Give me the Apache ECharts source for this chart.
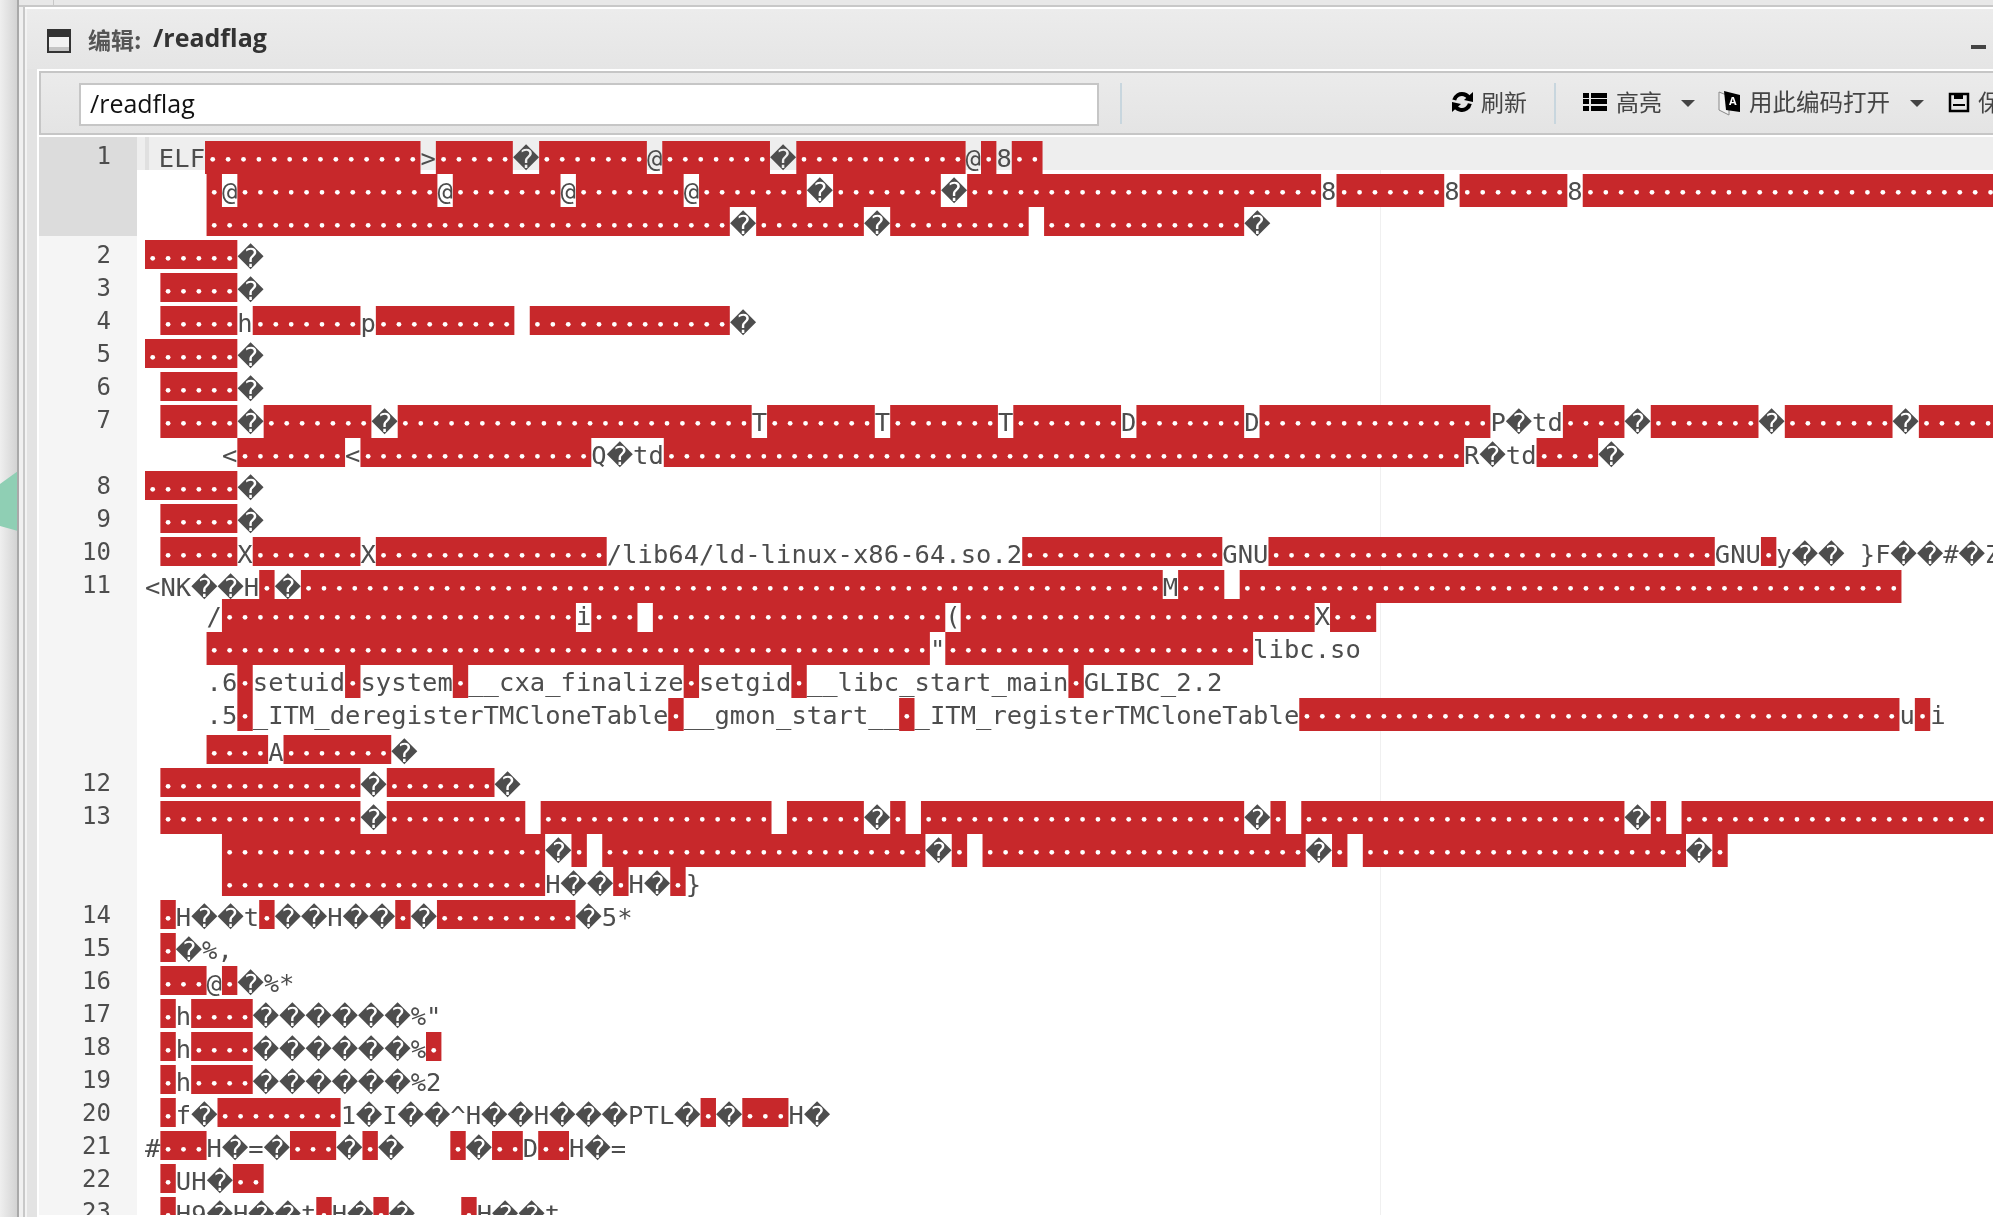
<!DOCTYPE html>
<html>
<head>
<meta charset="utf-8">
<style>html,body{margin:0;padding:0;background:#fff}#main{width:1993px;height:1217px}</style>
<script src="https://cdn.jsdelivr.net/npm/echarts@6/dist/echarts.min.js"></script>
</head>
<body>
<div id="main"></div>
<script>
// gutter label per visual row, '' = wrapped row of the line above
const lineLabels = ['1','','','2','3','4','5','6','7','','8','9','10','11','','','','','','12','13','','','14','15','16','17','18','19','20','21','22','23'];
// first column of every visual row
const rowIndent = [0.9,4,4,0,1,1,0,1,1,5,0,1,1,0,4,4,4,4,4,1,1,5,5,1,1,1,1,1,1,1,0,1,1];
// row tokens: a number is that many control chars (red cells), a string is plain text
const rowTokens = [
  ['ELF',14,'>',5,'�',7,'@',7,'�',11,'@',1,'8',2],
  [1,'@',13,'@',7,'@',7,'@',7,'�',7,'�',23,'8',7,'8',7,'8',27],
  [34,'�',7,'�',9,' ',13,'�'],
  [6,'�'],
  [5,'�'],
  [5,'h',7,'p',9,' ',13,'�'],
  [6,'�'],
  [5,'�'],
  [5,'�',7,'�',23,'T',7,'T',7,'T',7,'D',7,'D',15,'P�td',4,'�',7,'�',7,'�',5],
  ['<',7,'<',15,'Q�td',52,'R�td',4,'�'],
  [6,'�'],
  [5,'�'],
  [5,'X',7,'X',15,'/lib64/ld-linux-x86-64.so.2',13,'GNU',29,'GNU',1,'y�� }F��#�Z'],
  ['<NK��H',1,'�',56,'M',3,' ',43],
  ['/',23,'i',3,' ',19,'(',23,'X',3],
  [47,'"',20,'libc.so'],
  ['.6',1,'setuid',1,'system',1,'__cxa_finalize',1,'setgid',1,'__libc_start_main',1,'GLIBC_2.2'],
  ['.5',1,'_ITM_deregisterTMCloneTable',1,'__gmon_start__',1,'_ITM_registerTMCloneTable',39,'u',1,'i'],
  [4,'A',7,'�'],
  [13,'�',7,'�'],
  [13,'�',9,' ',15,' ',5,'�',1,' ',21,'�',1,' ',21,'�',1,' ',21],
  [21,'�',1,' ',21,'�',1,' ',21,'�',1,' ',21,'�',1],
  [21,'H��',1,'H�',1,'}'],
  [1,'H��t',1,'��H��',1,'�',9,'�5*'],
  [1,'�%,'],
  [3,'@',1,'�%*'],
  [1,'h',4,'������%"'],
  [1,'h',4,'������%',1],
  [1,'h',4,'������%2'],
  [1,'f�',8,'1�I��^H��H���PTL�',1,'�',3,'H�'],
  ['#',3,'H�=�',3,'�',1,'�   ',1,'�',2,'D',2,'H�='],
  [1,'UH�',2],
  [1,'H9�H��t',1,'H�',1,'�   ',1,'H��t']
];
const CHAR_W = 15.39, ROW_H = 33, BAD_W = 1.71;
// lines with the tall fallback glyph sit a little higher in the picture
const rowShift = {14:-4,15:-4,16:-4,17:-4};

// walk the tokens once, collect red spans, dots and glyphs in column units
const spans = [], dots = [], glyphs = [];
rowTokens.forEach((tokens, row) => {
  let col = rowIndent[row];
  tokens.forEach(t => {
    if (typeof t === 'number') {
      spans.push([col, row, col + t]);
      for (let i = 0; i < t; i++) dots.push([col + i + 0.5, row]);
      col += t;
    } else {
      for (const ch of t) {
        const w = ch === '�' ? BAD_W : 1;
        if (ch !== ' ') glyphs.push({value: [col + w / 2, row], ch: ch});
        col += w;
      }
    }
  });
});

function rowBox(api, row) {
  const mid = api.coord([0, row])[1];
  const top = mid - ROW_H / 2 + (rowShift[row] || 0);
  const last = row === lineLabels.length - 1 || lineLabels[row + 1] !== '';
  return {top: top, h: last ? ROW_H - 4 : ROW_H};
}

const RED = '#c7282b', INK = '#4d4d4d';
const bg = (x, y, width, height, fill, z) => ({type: 'rect', shape: {x, y, width, height}, style: {fill}, silent: true, z: z || 0});
const txt = (text, x, y, font, fill) => ({type: 'text', style: {text, x, y, font, fill, verticalAlign: 'middle'}, silent: true, z: 5});
const tri = (x, y, w, h, fill) => ({type: 'polygon', shape: {points: [[x, y], [x + w, y], [x + w / 2, y + h]]}, style: {fill}, silent: true, z: 5});
const CJK = '"Noto Sans CJK SC"';

const chrome = [
  // page behind the panel
  bg(0, 0, 1993, 1217, '#fff'),
  {type: 'rect', shape: {x: 0, y: 0, width: 17, height: 1217}, style: {fill: new echarts.graphic.LinearGradient(0, 0, 1, 0, [{offset: 0, color: '#efefef'}, {offset: 1, color: '#d3d3d3'}])}, silent: true},
  {type: 'polygon', shape: {points: [[0, 484], [18, 471], [18, 531], [0, 526]]}, style: {fill: '#8fcfb4'}, silent: true},
  bg(17, 0, 2, 1217, '#a9a9a9'), bg(19, 0, 4, 1217, '#f0f0f0'), bg(23, 0, 2, 1217, '#c8c8c8'),
  bg(25, 0, 2, 1217, '#f3f3f3'), bg(27, 0, 10, 1217, '#e3e3e3'),
  bg(19, 0, 1974, 5, '#e8e8e8'), bg(19, 5, 1974, 2, '#c8c8c8'), bg(53, 0, 1, 5, '#c8c8c8'),
  // title bar
  bg(25, 7, 1968, 2, '#fff'),
  {type: 'rect', shape: {x: 27, y: 9, width: 1966, height: 60}, style: {fill: new echarts.graphic.LinearGradient(0, 0, 0, 1, [{offset: 0, color: '#ececec'}, {offset: 1, color: '#e5e5e5'}])}, silent: true},
  bg(47, 29, 24, 24, '#333'), bg(49, 37, 20, 14, '#f2f2f2'), bg(49, 47, 20, 4, '#c4c4c4'),
  txt('编辑:', 88, 40, 'bold 23px ' + CJK, '#555'),
  txt('/readflag', 153, 40, 'bold 25px "Open Sans"', '#333'),
  bg(1971, 45, 15, 4, '#444'),
  // toolbar
  bg(37, 69, 1956, 2, '#fff'), bg(37, 69, 2, 1148, '#fff'),
  bg(39, 71, 1954, 2, '#c6c6c6'), bg(39, 71, 2, 64, '#c6c6c6'),
  {type: 'rect', shape: {x: 41, y: 73, width: 1952, height: 60}, style: {fill: new echarts.graphic.LinearGradient(0, 0, 0, 1, [{offset: 0, color: '#ebebeb'}, {offset: 1, color: '#e4e4e4'}])}, silent: true},
  bg(39, 133, 1954, 2, '#c6c6c6'),
  {type: 'rect', shape: {x: 80, y: 84, width: 1018, height: 41}, style: {fill: '#fff', stroke: '#c6c6c6', lineWidth: 2}, silent: true, z: 1},
  txt('/readflag', 90, 106, '25px "Open Sans"', '#111'),
  bg(1120, 83, 2, 41, '#c8d6de'), bg(1554, 83, 2, 41, '#c8d6de'),
  // refresh
  {type: 'arc', shape: {cx: 1462, cy: 102, r: 8, startAngle: -2.9, endAngle: -0.4}, style: {stroke: '#000', fill: 'none', lineWidth: 4}, silent: true, z: 5},
  {type: 'arc', shape: {cx: 1462, cy: 102, r: 8, startAngle: 0.2, endAngle: 2.7}, style: {stroke: '#000', fill: 'none', lineWidth: 4}, silent: true, z: 5},
  {type: 'polygon', shape: {points: [[1473, 92], [1473, 102], [1464, 100]]}, style: {fill: '#000'}, silent: true, z: 5},
  {type: 'polygon', shape: {points: [[1452, 112], [1452, 102], [1461, 104]]}, style: {fill: '#000'}, silent: true, z: 5},
  txt('刷新', 1481, 102, '23px ' + CJK, '#444'),
  // highlight
  bg(1583, 93, 6, 5, '#000'), bg(1591, 93, 16, 5, '#000'),
  bg(1583, 99, 6, 5, '#000'), bg(1591, 99, 16, 5, '#000'),
  bg(1583, 106, 6, 5, '#000'), bg(1591, 106, 16, 5, '#000'),
  txt('高亮', 1616, 102, '23px ' + CJK, '#444'),
  tri(1681, 100, 14, 7, '#444'),
  // open with encoding
  {type: 'polygon', shape: {points: [[1719, 92], [1729, 96], [1729, 115], [1719, 110]]}, style: {fill: '#f2f2f2', stroke: '#888', lineWidth: 1}, silent: true, z: 5},
  {type: 'polygon', shape: {points: [[1724, 91], [1740, 95], [1740, 112], [1726, 110]]}, style: {fill: '#000'}, silent: true, z: 5},
  txt('A', 1729, 102, 'bold 11px "Open Sans"', '#fff'),
  txt('用此编码打开', 1749, 102, '23.5px ' + CJK, '#444'),
  tri(1910, 100, 14, 7, '#444'),
  // save
  {type: 'rect', shape: {x: 1950, y: 94, width: 18, height: 17}, style: {fill: 'none', stroke: '#000', lineWidth: 2.5}, silent: true, z: 5},
  bg(1954, 94, 9, 5, '#000'), bg(1953, 104, 12, 2, '#000'),
  txt('保', 1978, 102, '23px ' + CJK, '#444'),
  // editor panes
  bg(39, 137, 98, 99, '#dcdcdc'), bg(39, 236, 98, 979, '#f5f5f5'),
  bg(137, 137, 1856, 33, '#eeeeee'), bg(145, 137, 4, 33, '#e0e0e0'),
  bg(1380, 170, 1, 1045, '#f0f0f0'),
  // panel stops just above the window edge
  bg(39, 1215, 1954, 2, '#fff', 100)
];

const chart = echarts.init(document.getElementById('main'), null, {renderer: 'canvas'});
chart.setOption({
  animation: false,
  backgroundColor: '#fff',
  graphic: {elements: chrome},
  grid: {left: 145, top: 141, width: CHAR_W * 121, height: ROW_H * lineLabels.length, outerBoundsMode: 'none'},
  xAxis: {type: 'value', min: 0, max: 121, show: false},
  yAxis: {
    type: 'category', inverse: true, data: lineLabels,
    axisLine: {show: false}, axisTick: {show: false}, splitLine: {show: false},
    axisLabel: {interval: 0, margin: 34, color: INK, fontFamily: '"DejaVu Sans Mono"', fontSize: 24, padding: [0, 0, 7, 0]}
  },
  series: [
    {
      type: 'custom', clip: false, z: 2, encode: {x: 0, y: 1}, data: spans,
      renderItem: (params, api) => {
        const row = api.value(1), box = rowBox(api, row);
        const x0 = api.coord([api.value(0), row])[0], x1 = api.coord([api.value(2), row])[0];
        return {type: 'rect', shape: {x: x0, y: box.top, width: x1 - x0, height: box.h}, style: {fill: RED}};
      }
    },
    {
      type: 'custom', clip: false, z: 3, encode: {x: 0, y: 1}, data: dots,
      renderItem: (params, api) => {
        const row = api.value(1), box = rowBox(api, row);
        return {type: 'circle', shape: {cx: api.coord([api.value(0), row])[0], cy: box.top + 18.3, r: 2.4}, style: {fill: '#fff'}};
      }
    },
    {
      type: 'custom', clip: false, z: 4, encode: {x: 0, y: 1}, data: glyphs,
      renderItem: (params, api) => {
        const row = api.value(1), box = rowBox(api, row), ch = glyphs[params.dataIndex].ch;
        const bad = ch === '�';
        return {type: 'text', style: {
          text: ch, x: api.coord([api.value(0), row])[0], y: box.top + (bad ? 20 : 19.5),
          align: 'center', verticalAlign: 'middle',
          font: bad ? '26px "DejaVu Sans"' : '25.5px "DejaVu Sans Mono"', fill: INK
        }};
      }
    }
  ]
});
</script>
</body>
</html>
